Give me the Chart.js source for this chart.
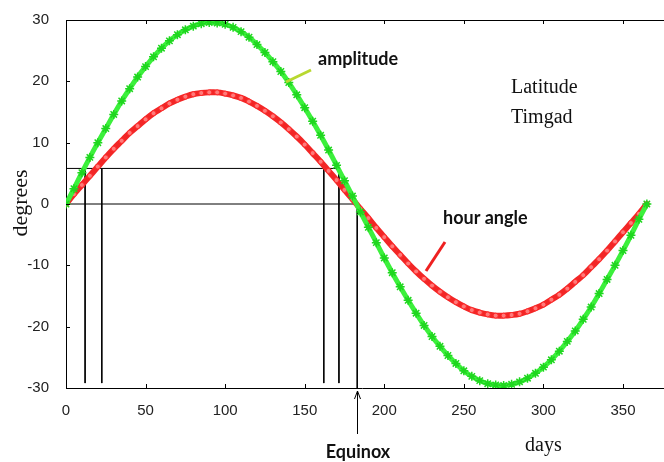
<!DOCTYPE html>
<html>
<head>
<meta charset="utf-8">
<script src="https://cdn.jsdelivr.net/npm/chart.js@4.4.0/dist/chart.umd.min.js"></script>
<style>
  html, body { margin: 0; padding: 0; background: #fff; }
  canvas { display: block; }
</style>
</head>
<body>
<canvas id="sunChart" width="664" height="462"></canvas>
<script>
// days of the year, read every 5 days
const days = [0,5,10,15,20,25,30,35,40,45,50,55,60,65,70,75,80,85,90,95,100,105,110,115,120,125,130,135,140,145,150,155,160,165,170,175,180,
  185,190,195,200,205,210,215,220,225,230,235,240,245,250,255,260,265,270,275,280,285,290,295,300,305,310,315,320,325,330,335,340,345,350,355,360,365];

// amplitude (green), degrees
const amplitude = [0,2.5,5.1,7.6,10.0,12.3,14.6,16.8,18.8,20.7,22.4,24.0,25.4,26.6,27.6,28.4,29.0,29.4,29.6,29.5,29.3,28.8,28.1,27.2,26.0,24.7,23.2,21.6,19.8,17.8,15.7,13.5,11.2,8.8,6.3,3.8,1.3,
  -1.3,-3.8,-6.3,-8.8,-11.2,-13.5,-15.7,-17.8,-19.8,-21.6,-23.2,-24.7,-26.0,-27.2,-28.1,-28.8,-29.3,-29.5,-29.6,-29.4,-29.0,-28.4,-27.6,-26.6,-25.4,-24.0,-22.4,-20.7,-18.8,-16.8,-14.6,-12.3,-10.0,-7.6,-5.1,-2.5,0];

// hour angle (red), degrees
const hourAngle = [0,1.6,3.1,4.6,6.1,7.6,9.0,10.3,11.6,12.7,13.8,14.8,15.6,16.4,17.0,17.5,17.9,18.1,18.2,18.2,18.0,17.7,17.3,16.7,16.0,15.2,14.3,13.3,12.2,11.0,9.7,8.3,6.9,5.4,3.9,2.3,0.8,
  -0.8,-2.3,-3.9,-5.4,-6.9,-8.3,-9.7,-11.0,-12.2,-13.3,-14.3,-15.2,-16.0,-16.7,-17.3,-17.7,-18.0,-18.2,-18.2,-18.1,-17.9,-17.5,-17.0,-16.4,-15.6,-14.8,-13.8,-12.7,-11.6,-10.3,-9.0,-7.6,-6.1,-4.6,-3.1,-1.6,0];

const xTicks = [0,50,100,150,200,250,300,350];
const yTicks = [-30,-20,-10,0,10,20,30];

// guide lines
const guideLevel = 5.8;
const guideDays = [12, 22.5, 162, 171.5];
const equinoxDay = 183;

const toXY = (xs, ys) => xs.map((x, i) => ({x: x, y: ys[i]}));

const guideSets = [];
guideSets.push({ data: [{x: 0, y: guideLevel}, {x: guideDays[3], y: guideLevel}] });
guideSets.push({ data: [{x: 0, y: 0}, {x: equinoxDay, y: 0}] });
guideDays.forEach(d => {
  guideSets.push({ data: [{x: d, y: guideLevel}, {x: d, y: -29.2}] });
});
guideSets.push({ data: [{x: equinoxDay, y: 0}, {x: equinoxDay, y: -30}] });
guideSets.forEach(s => {
  s.borderColor = '#000';
  s.borderWidth = 1;
  s.pointRadius = 0;
  s.tension = 0;
  s.order = 5;
});

const decorations = {
  id: 'decorations',
  afterDatasetsDraw(chart) {
    const {ctx, chartArea, scales} = chart;
    const xs = scales.x, ys = scales.y;
    ctx.save();
    ctx.strokeStyle = '#000';
    ctx.lineWidth = 1;
    // top border
    ctx.beginPath();
    ctx.moveTo(chartArea.left, chartArea.top + 0.5);
    ctx.lineTo(664, chartArea.top + 0.5);
    ctx.moveTo(chartArea.right, chartArea.bottom + 0.5);
    ctx.lineTo(664, chartArea.bottom + 0.5);
    ctx.stroke();
    // inward ticks
    ctx.beginPath();
    xTicks.slice(1).forEach(t => {
      const px = Math.round(xs.getPixelForValue(t)) + 0.5;
      ctx.moveTo(px, chartArea.bottom); ctx.lineTo(px, chartArea.bottom - 4);
      ctx.moveTo(px, chartArea.top); ctx.lineTo(px, chartArea.top + 4);
    });
    yTicks.forEach(t => {
      const py = Math.round(ys.getPixelForValue(t)) + 0.5;
      ctx.moveTo(chartArea.left, py); ctx.lineTo(chartArea.left + 4, py);
    });
    ctx.stroke();

    // pointers
    ctx.lineWidth = 3;
    ctx.strokeStyle = '#b8d830';
    ctx.beginPath(); ctx.moveTo(286, 82); ctx.lineTo(311, 70); ctx.stroke();
    ctx.strokeStyle = '#ee2020';
    ctx.beginPath(); ctx.moveTo(426, 271); ctx.lineTo(445, 242); ctx.stroke();

    // equinox arrow
    const ex = Math.round(xs.getPixelForValue(equinoxDay)) + 0.5;
    ctx.strokeStyle = '#000';
    ctx.lineWidth = 1;
    ctx.beginPath();
    ctx.moveTo(ex, 391); ctx.lineTo(ex, 434);
    ctx.moveTo(ex - 3, 399); ctx.lineTo(ex, 391); ctx.lineTo(ex + 3, 399);
    ctx.stroke();

    // text
    ctx.fillStyle = '#111';
    ctx.textBaseline = 'middle';
    ctx.textAlign = 'left';
    ctx.font = 'bold 18px Lato, "Open Sans", sans-serif';
    ctx.fillText('amplitude', 318, 59);
    ctx.fillText('hour angle', 443, 218);
    ctx.textAlign = 'center';
    ctx.fillText('Equinox', 358, 452);
    ctx.font = '20px "Liberation Serif", serif';
    ctx.textAlign = 'left';
    ctx.fillText('Latitude', 511, 88);
    ctx.fillText('Timgad', 511, 118);
    ctx.fillText('days', 525, 446);
    ctx.font = '22px "Liberation Serif", serif';
    ctx.translate(21, 203);
    ctx.rotate(-Math.PI / 2);
    ctx.textAlign = 'center';
    ctx.fillText('degrees', 0, 0);
    ctx.restore();
  }
};

const tickFont = { family: '"Liberation Sans", Arial, sans-serif', size: 15 };

const ctx = document.getElementById('sunChart').getContext('2d');
const sunChart = new Chart(ctx, {
  type: 'line',
  data: {
    datasets: [
      {
        label: 'amplitude',
        data: toXY(days, amplitude),
        borderColor: '#3cf03c',
        backgroundColor: '#3cf03c',
        borderWidth: 5,
        pointStyle: 'star',
        pointRadius: 4.5,
        pointBorderWidth: 1.5,
        pointBorderColor: '#1fd61f',
        tension: 0.4,
        order: 1,
      },
      {
        label: 'hour angle',
        data: toXY(days, hourAngle),
        borderColor: '#f22626',
        backgroundColor: '#ff7a7a',
        borderWidth: 6,
        pointStyle: 'circle',
        pointRadius: 2.5,
        pointBorderWidth: 1,
        pointBorderColor: '#ff2a2a',
        tension: 0.4,
        order: 2,
      },
      ...guideSets,
    ],
  },
  options: {
    responsive: false,
    animation: false,
    layout: { padding: { top: 20, left: 0, right: 0, bottom: 0 } },
    plugins: {
      legend: { display: false },
      tooltip: { enabled: false },
    },
    scales: {
      x: {
        type: 'linear',
        min: 0,
        max: 372,
        afterBuildTicks: scale => { scale.ticks = xTicks.map(v => ({value: v})); },
        afterFit: scale => { scale.height = 74; },
        grid: { display: false },
        border: { display: true, color: '#000', width: 1 },
        ticks: {
          padding: 6,
          color: '#222',
          font: tickFont,
          maxRotation: 0,
        },
      },
      y: {
        min: -30,
        max: 30,
        afterBuildTicks: scale => { scale.ticks = yTicks.map(v => ({value: v})); },
        afterFit: scale => { scale.width = 66; },
        grid: { display: false },
        border: { display: true, color: '#000', width: 1 },
        ticks: {
          padding: 9,
          color: '#222',
          font: tickFont,
        },
      },
    },
  },
  plugins: [decorations],
});
</script>
</body>
</html>
